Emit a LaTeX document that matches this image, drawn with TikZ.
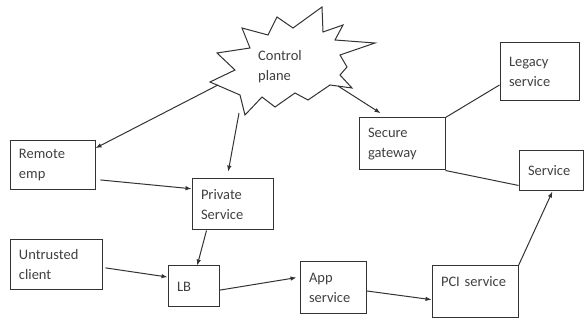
\documentclass[tikz,border=0pt]{standalone}
\usepackage{fontspec}
\setmainfont{Carlito}
\usetikzlibrary{arrows.meta}

\begin{document}
\begin{tikzpicture}[x=1pt,y=-1pt,
  box/.style={draw=black!80, line width=1pt, align=left, inner xsep=9pt, inner ysep=0pt,
    text=black!75, font=\fontsize{14.5}{20}\selectfont},
  link/.style={draw=black!80, line width=1pt},
  arr/.style={link, -{Latex[length=6pt,width=4.5pt]}}]
\useasboundingbox (0,0) rectangle (584,320);

% Control plane burst
\draw[line width=1pt, draw=black!80, fill=white]
  (217,53) -- (250,48) -- (242,28) -- (268,35) -- (277,17) -- (293,28) -- (322,7)
  -- (323,32) -- (343,25) -- (335,40) -- (375,43) -- (340,55) -- (347,67) -- (340,75)
  -- (352,88) -- (330,85) -- (308,100) -- (295,93) -- (275,107) -- (262,97) -- (245,115)
  -- (240,95) -- (210,82) -- (235,70) -- cycle;
\node[align=left, text=black!75, font=\fontsize{14.5}{20}\selectfont] (cp) at (280,67) {Control\\plane};
\coordinate (cpw) at (218,85);
\coordinate (cps) at (239,113);
\coordinate (cpe) at (338,86);

% Boxes
\node[box, minimum width=85pt, minimum height=49pt, text width=67pt] (remote) at (52.5,165.5) {Remote\\emp};
\node[box, minimum width=81pt, minimum height=51pt, text width=63pt] (private) at (232.5,204.5) {Private\\Service};
\node[box, minimum width=92pt, minimum height=50pt, text width=74pt] (untrusted) at (56,265) {Untrusted\\client};
\node[box, minimum width=51pt, minimum height=41pt, text width=33pt] (lb) at (193.5,286.5) {LB};
\node[box, minimum width=66pt, minimum height=52pt, text width=48pt] (app) at (333,288) {App\\service};
\node[box, minimum width=86pt, minimum height=52pt, text width=68pt] (pci) at (475,292) {PCI service\\\mbox{}};
\node[box, minimum width=86pt, minimum height=52pt, text width=68pt] (gateway) at (402,144) {Secure\\gateway};
\node[box, minimum width=79pt, minimum height=58pt, text width=61pt] (legacy) at (539.5,72) {Legacy\\service};
\node[box, minimum width=64pt, minimum height=40pt, text width=46pt] (service) at (551,171) {Service};

% Control plane links
\draw[arr] (cpw) -- (remote.22);
\draw[arr, shorten >=7pt] (cps) -- (private.102);
\draw[arr, shorten >=8pt] (cpe) -- (gateway.119);

% Traffic
\draw[arr, shorten <=5pt] (remote.-18) -- (private.159);
\draw[arr] (private.-135) -- (lb.80);
\draw[arr, shorten <=3pt] (untrusted.-3) -- (lb.160);
\draw[arr, shorten >=3pt] (lb.-8) -- (app.162);
\draw[arr] (app.-5) -- (pci.-170);
\draw[arr] (pci.north east) -- (service.-86);

% Gateway fan-out
\draw[link] (gateway.north east) -- (legacy.-162);
\draw[link] (gateway.south east) -- (service.-156);
\end{tikzpicture}
\end{document}
